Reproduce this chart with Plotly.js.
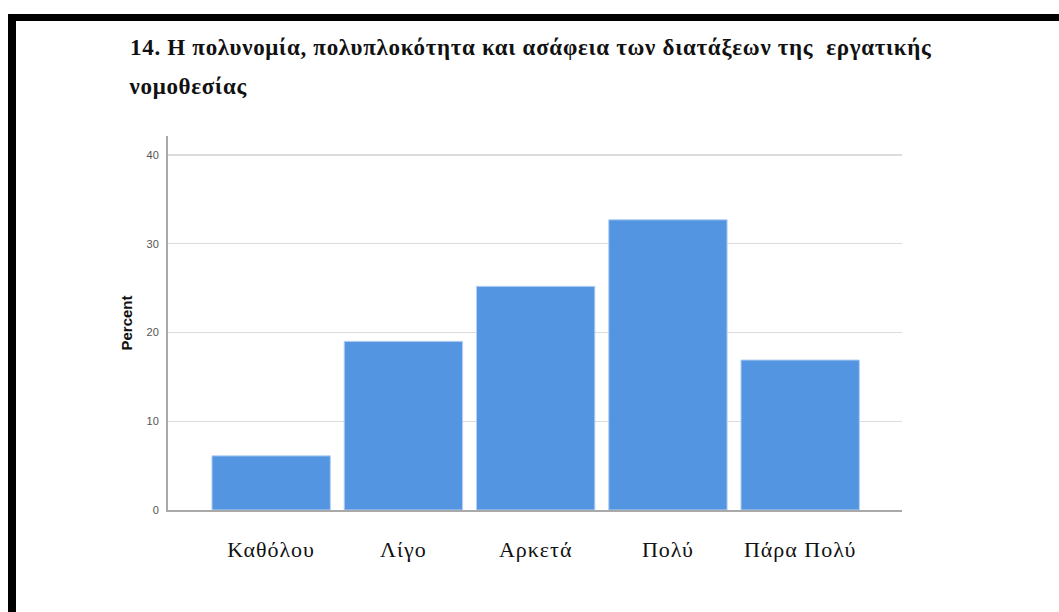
<!DOCTYPE html>
<html>
<head>
<meta charset="utf-8">
<script src="https://cdn.plot.ly/plotly-3.0.1.min.js"></script>
<style>
html,body{margin:0;padding:0;background:#fff;}
#wrap{position:relative;width:1059px;height:612px;overflow:hidden;}
#chart{position:absolute;left:0;top:0;width:1059px;height:612px;}
.bl{position:absolute;background:#000;}
#chart .gtitle, #chart .annotation-text{letter-spacing:0.7px;}
#chart .xtick text{letter-spacing:1px;}
</style>
</head>
<body>
<div id="wrap">
<div id="chart"></div>
<div class="bl" style="left:8px;top:14px;width:8px;height:598px;"></div>
<div class="bl" style="left:8px;top:14px;width:1051px;height:7px;"></div>
</div>
<script>
const categories = ["Καθόλου", "Λίγο", "Αρκετά", "Πολύ", "Πάρα Πολύ"];
const percentValues = [6.1, 19.0, 25.2, 32.7, 16.9];
const yTickValues = [0, 10, 20, 30, 40];
const titleLine1 = "14. Η πολυνομία, πολυπλοκότητα και ασάφεια των διατάξεων της  εργατικής";
const titleLine2 = "νομοθεσίας";
const yAxisTitle = "Percent";

const trace = {
  type: "bar",
  x: categories,
  y: percentValues,
  marker: {color: "#5495e2", line: {color: "#b5d0f2", width: 1}},
  hoverinfo: "x+y"
};

const layout = {
  width: 1059,
  height: 612,
  margin: {l: 168, r: 157, t: 136, b: 102, pad: 0},
  paper_bgcolor: "#ffffff",
  plot_bgcolor: "#ffffff",
  showlegend: false,
  bargap: 0.105,
  title: {
    text: "<b>" + titleLine1 + "</b>",
    font: {family: "Liberation Serif", size: 23, color: "#111"},
    x: 130/1059, xanchor: "left", xref: "container",
    y: 1 - 47/612, yanchor: "middle", yref: "container"
  },
  annotations: [{
    text: "<b>" + titleLine2 + "</b>",
    xref: "paper", yref: "paper",
    x: (130 - 168)/734, xanchor: "left",
    y: (510 - 87)/374, yanchor: "middle",
    showarrow: false,
    font: {family: "Liberation Serif", size: 23, color: "#111"}
  }],
  xaxis: {
    type: "category",
    range: [-0.78, 4.77],
    showgrid: false,
    showline: true,
    linecolor: "#a9a9a9",
    linewidth: 2,
    ticks: "",
    ticklabelstandoff: 19,
    tickfont: {family: "Liberation Serif", size: 22, color: "#111"},
    zeroline: false,
    fixedrange: true
  },
  yaxis: {
    range: [0, 42.14],
    tickvals: yTickValues,
    ticktext: yTickValues.map(String),
    showgrid: true,
    gridcolor: "#dcdcdc",
    gridwidth: 1.5,
    showline: true,
    linecolor: "#a9a9a9",
    linewidth: 2,
    zeroline: false,
    ticks: "",
    ticklabelstandoff: 5,
    tickfont: {family: "Liberation Sans", size: 11, color: "#555"},
    title: {text: "<b>" + yAxisTitle + "</b>", standoff: 10, font: {family: "Liberation Sans", size: 15, color: "#111"}},
    automargin: false,
    fixedrange: true
  }
};

Plotly.newPlot("chart", [trace], layout, {displayModeBar: false, staticPlot: true});
</script>
</body>
</html>
